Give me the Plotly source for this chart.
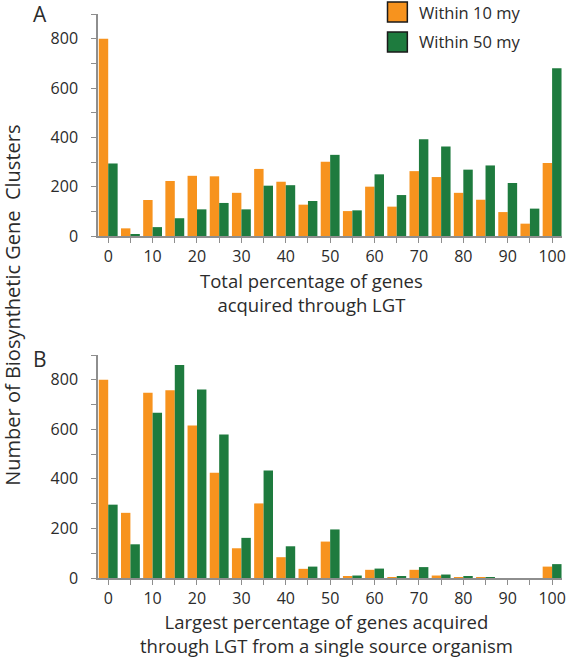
import plotly.graph_objects as go

# ---------------- data ----------------
categories = [0, 5, 10, 15, 20, 25, 30, 35, 40, 45, 50, 55, 60, 65, 70, 75, 80, 85, 90, 95, 100]
tick_labels = ["0", "", "10", "", "20", "", "30", "", "40", "", "50", "", "60", "", "70", "", "80", "", "90", "", "100"]

a_within10 = [800, 31, 146, 223, 244, 242, 175, 272, 220, 127, 301, 101, 200, 119, 263, 239, 175, 147, 97, 50, 296]
a_within50 = [294, 7, 36, 72, 108, 134, 108, 204, 206, 142, 329, 104, 250, 166, 392, 363, 269, 286, 215, 111, 680]

b_within10 = [800, 263, 748, 758, 615, 425, 120, 301, 84, 37, 147, 6, 33, 4, 33, 10, 3, 1, 0, 0, 46]
b_within50 = [296, 136, 667, 860, 761, 579, 162, 434, 128, 46, 196, 10, 38, 6, 44, 14, 5, 1, 0, 0, 56]

series_names = ["Within 10 my", "Within 50 my"]
y_tickvals = [0, 100, 200, 300, 400, 500, 600, 700, 800, 900]
y_ticktext = ["0", "", "200", "", "400", "", "600", "", "800", ""]

# ---------------- style ----------------
W, H = 566, 657
ML, MR, MT, MB = 98, 0, 14, 79
PW, PH = W - ML - MR, H - MT - MB
ORANGE = "#F7931E"
GREEN = "#1E7B3E"
AXIS = "#8E8E8E"
TEXT = "#2B2B2B"
FONT = "Open Sans"


def px_x(p):
    return (p - ML) / PW


def px_y(p):
    return (H - MB - p) / PH


fig = go.Figure()
for ys, col, nm, xa, ya in [
    (a_within10, ORANGE, series_names[0], "x", "y"),
    (a_within50, GREEN, series_names[1], "x", "y"),
    (b_within10, ORANGE, series_names[0], "x2", "y2"),
    (b_within50, GREEN, series_names[1], "x2", "y2"),
]:
    fig.add_trace(go.Bar(x=categories, y=ys, name=nm, marker=dict(color=col, line=dict(width=0)),
                         xaxis=xa, yaxis=ya, showlegend=False, hoverinfo="skip"))

xcommon = dict(range=[-2.3, 102.23], tickmode="array", tickvals=categories, ticktext=tick_labels,
               showline=True, linecolor=AXIS, linewidth=1.5, ticks="outside", ticklen=5,
               tickcolor=AXIS, tickwidth=1.2, showgrid=False, zeroline=False,
               ticklabeloverflow="allow",
               tickfont=dict(family=FONT, size=16, color=TEXT))
ycommon = dict(range=[0, 900], tickmode="array", tickvals=y_tickvals, ticktext=y_ticktext,
               showline=True, linecolor=AXIS, linewidth=1.5, ticks="outside", ticklen=5,
               tickcolor=AXIS, tickwidth=1.2, showgrid=False, zeroline=False,
               ticklabelstandoff=10,
               tickfont=dict(family=FONT, size=16, color=TEXT))

fig.update_layout(
    width=W, height=H,
    margin=dict(l=ML, r=MR, t=MT, b=MB),
    paper_bgcolor="white", plot_bgcolor="white",
    barmode="group", bargap=0.15, bargroupgap=0,
    xaxis=dict(xcommon, domain=[0, 1], anchor="y"),
    yaxis=dict(ycommon, domain=[px_y(236), 1], anchor="x"),
    xaxis2=dict(xcommon, domain=[0, 1], anchor="y2"),
    yaxis2=dict(ycommon, domain=[0, px_y(355)], anchor="x2"),
    font=dict(family=FONT, color=TEXT),
)

ann = []
# x axis titles
ann.append(dict(text="Total percentage of genes<br>acquired through LGT", x=px_x(313), y=px_y(292),
                xref="paper", yref="paper", showarrow=False, font=dict(size=18.5, color=TEXT, family=FONT),
                xanchor="center", yanchor="middle"))
ann.append(dict(text="Largest percentage of genes acquired<br>through LGT from a single source organism",
                x=px_x(328), y=px_y(633), xref="paper", yref="paper", showarrow=False,
                font=dict(size=18.5, color=TEXT, family=FONT), xanchor="center", yanchor="middle"))
# y axis title
ann.append(dict(text="Number of Biosynthetic Gene\u00a0 Clusters", x=px_x(11), y=px_y(305),
                xref="paper", yref="paper", showarrow=False, textangle=-90,
                font=dict(size=20, color=TEXT, family=FONT), xanchor="center", yanchor="middle"))
# panel labels
ann.append(dict(text="A", x=px_x(39), y=px_y(14), xref="paper", yref="paper", showarrow=False,
                font=dict(size=21, color=TEXT, family=FONT), xanchor="center", yanchor="middle"))
ann.append(dict(text="B", x=px_x(39), y=px_y(359), xref="paper", yref="paper", showarrow=False,
                font=dict(size=21, color=TEXT, family=FONT), xanchor="center", yanchor="middle"))
# legend text
for nm, cy in zip(series_names, [12, 42]):
    ann.append(dict(text=nm, x=px_x(420), y=px_y(cy), xref="paper", yref="paper", showarrow=False,
                    font=dict(size=16.5, color=TEXT, family=FONT), xanchor="left", yanchor="middle"))
fig.update_layout(annotations=ann)

shapes = []
for col, (y0, y1) in zip([ORANGE, GREEN], [(2, 22), (32, 52)]):
    shapes.append(dict(type="rect", xref="paper", yref="paper", x0=px_x(390), x1=px_x(410),
                       y0=px_y(y1), y1=px_y(y0), fillcolor=col, line=dict(color="#1a1a1a", width=1.5)))
fig.update_layout(shapes=shapes)

fig.write_html("out.html", config={"displayModeBar": False},
               post_script="document.body.style.margin='0px';document.body.style.overflow='hidden';")
